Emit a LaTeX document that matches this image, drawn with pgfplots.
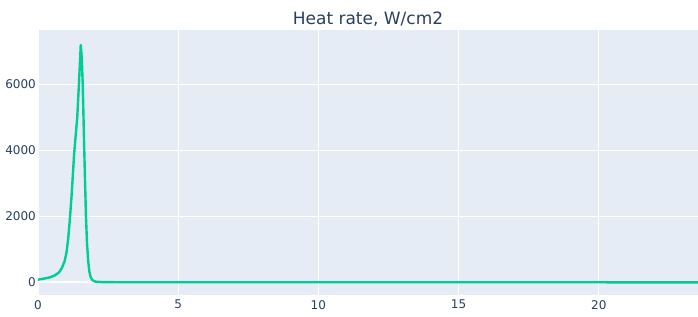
\documentclass[border=0pt]{standalone}
\usepackage{pgfplots}
\pgfplotsset{compat=1.18}
\usepackage{fontspec}
\setmainfont{DejaVu Sans}
\definecolor{bgcol}{HTML}{E5ECF6}
\definecolor{txtcol}{HTML}{2A3F5F}
\definecolor{linecol}{HTML}{00CC96}
\begin{document}
\begin{tikzpicture}[x=1pt,y=1pt]
\useasboundingbox (0,0) rectangle (698,316);
\node[anchor=base, text=txtcol, inner sep=0pt, font=\fontsize{17}{20}\selectfont] at (368,291) {Heat rate, W/cm2};
\begin{axis}[
  at={(38pt,21pt)}, anchor=south west,
  scale only axis, width=660pt, height=265pt,
  xmin=0, xmax=23.54, ymin=-384, ymax=7634,
  xtick={0,5,10,15,20}, ytick={0,2000,4000,6000},
  axis background/.style={fill=bgcol},
  axis line style={draw=none},
  major tick length=0pt,
  grid=major,
  major grid style={white, line width=1pt},
  tick label style={text=txtcol, font=\fontsize{12}{14}\selectfont, inner sep=0pt},
  /pgf/number format/assume math mode=true,
  /pgf/number format/set thousands separator={},
  xticklabel style={anchor=north, yshift=-5pt},
  yticklabel style={anchor=east, xshift=-2pt},
  clip=true,
]
\addplot[white, line width=2pt] coordinates {(0,0) (23.54,0)};
\addplot[linecol, line width=2.4pt, line join=round] coordinates {
(0,80) (0.2,110) (0.43,150) (0.6,210) (0.75,300) (0.85,430) (0.95,640) (1.02,920)
(1.08,1350) (1.14,1950) (1.2,2650) (1.29,3900) (1.40,5000) (1.46,6000) (1.525,7180)
(1.56,6800) (1.595,6000) (1.65,4000) (1.71,2000) (1.75,1150) (1.79,650) (1.83,330)
(1.88,150) (1.95,60) (2.05,20) (2.3,5) (3,2) (23.54,0)
};
\end{axis}
\end{tikzpicture}
\end{document}
